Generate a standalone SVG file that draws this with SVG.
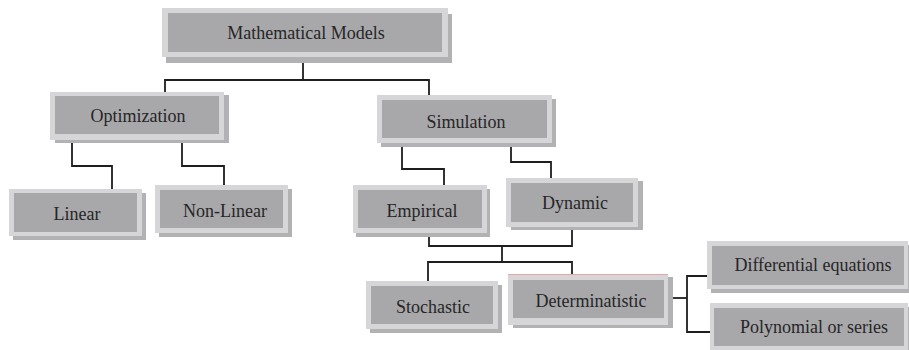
<svg xmlns="http://www.w3.org/2000/svg" width="909" height="350" viewBox="0 0 909 350">
<style>
.sh{fill:#b2b2b4}
.fr{fill:#d6d6d8}
.in{fill:#a8a8ab}
.tx{font-size:18px;fill:#262626;text-anchor:middle}
.cn{fill:none;stroke:#1e1e1e;stroke-width:1.8}
</style>
<rect width="909" height="350" fill="#ffffff"/>
<g id="connectors" class="cn">
<path d="M303,63 V80"/>
<path d="M165,92 V80 H429 V95"/>
<path d="M72,143 V166 H112 V189"/>
<path d="M182,143 V166 H224 V185"/>
<path d="M402,147 V169 H444 V185"/>
<path d="M511,147 V162 H551 V178"/>
<path d="M429,237 V246 H572 V230"/>
<path d="M502,246 V262"/>
<path d="M428,281 V262 H572 V274"/>
<path d="M673,298 H687"/>
<path d="M707,276 H687 V332 H710"/>
</g>
<g font-family="Liberation Serif, DejaVu Serif, serif">
<g id="mathematical-models">
<rect class="sh" x="166" y="14" width="286" height="49"/>
<rect class="fr" x="162" y="8" width="286" height="49"/>
<rect class="in" x="168" y="13" width="274" height="39"/>
<text class="tx" x="306" y="39">Mathematical Models</text>
</g>
<g id="optimization">
<rect class="sh" x="55" y="95" width="174" height="48"/>
<rect class="fr" x="50" y="92" width="174" height="48"/>
<rect class="in" x="55" y="96" width="164" height="38"/>
<text class="tx" x="138" y="122">Optimization</text>
</g>
<g id="linear">
<rect class="sh" x="13" y="193" width="133" height="47"/>
<rect class="fr" x="9" y="189" width="133" height="47"/>
<rect class="in" x="14" y="193" width="123" height="39"/>
<text class="tx" x="77" y="220">Linear</text>
</g>
<g id="non-linear">
<rect class="sh" x="159" y="189" width="133" height="48"/>
<rect class="fr" x="155" y="185" width="133" height="48"/>
<rect class="in" x="160" y="190" width="123" height="38"/>
<text class="tx" x="225" y="217">Non-Linear</text>
</g>
<g id="simulation">
<rect class="sh" x="381" y="99" width="175" height="48"/>
<rect class="fr" x="377" y="95" width="175" height="48"/>
<rect class="in" x="382" y="100" width="165" height="38"/>
<text class="tx" x="466" y="128">Simulation</text>
</g>
<g id="empirical">
<rect class="sh" x="356" y="189" width="134" height="48"/>
<rect class="fr" x="353" y="185" width="134" height="48"/>
<rect class="in" x="358" y="190" width="124" height="38"/>
<text class="tx" x="422" y="217">Empirical</text>
</g>
<g id="dynamic">
<rect class="sh" x="511" y="181" width="132" height="49"/>
<rect class="fr" x="506" y="178" width="132" height="49"/>
<rect class="in" x="511" y="183" width="122" height="39"/>
<text class="tx" x="575" y="209">Dynamic</text>
</g>
<g id="stochastic">
<rect class="sh" x="370" y="285" width="132" height="48"/>
<rect class="fr" x="366" y="281" width="132" height="48"/>
<rect class="in" x="371" y="286" width="122" height="38"/>
<text class="tx" x="433" y="313">Stochastic</text>
</g>
<g id="determinatistic">
<rect class="sh" x="513" y="277" width="160" height="51"/>
<rect class="fr" x="508" y="274" width="160" height="51"/>
<rect class="in" x="513" y="280" width="151" height="38"/>
<line x1="508" y1="274.5" x2="668" y2="274.5" stroke="#eaa6a6" stroke-width="1"/>
<text class="tx" x="591" y="307">Determinatistic</text>
</g>
<g id="differential-equations">
<rect class="sh" x="711" y="245" width="198" height="48"/>
<rect class="fr" x="707" y="241" width="201" height="48"/>
<rect class="in" x="712" y="246" width="192" height="39"/>
<text class="tx" x="813" y="271">Differential equations</text>
</g>
<g id="polynomial-or-series">
<rect class="sh" x="714" y="307" width="195" height="48"/>
<rect class="fr" x="710" y="303" width="198" height="48"/>
<rect class="in" x="714" y="308" width="190" height="38"/>
<text class="tx" x="814" y="333">Polynomial or series</text>
</g>
</g>
</svg>
